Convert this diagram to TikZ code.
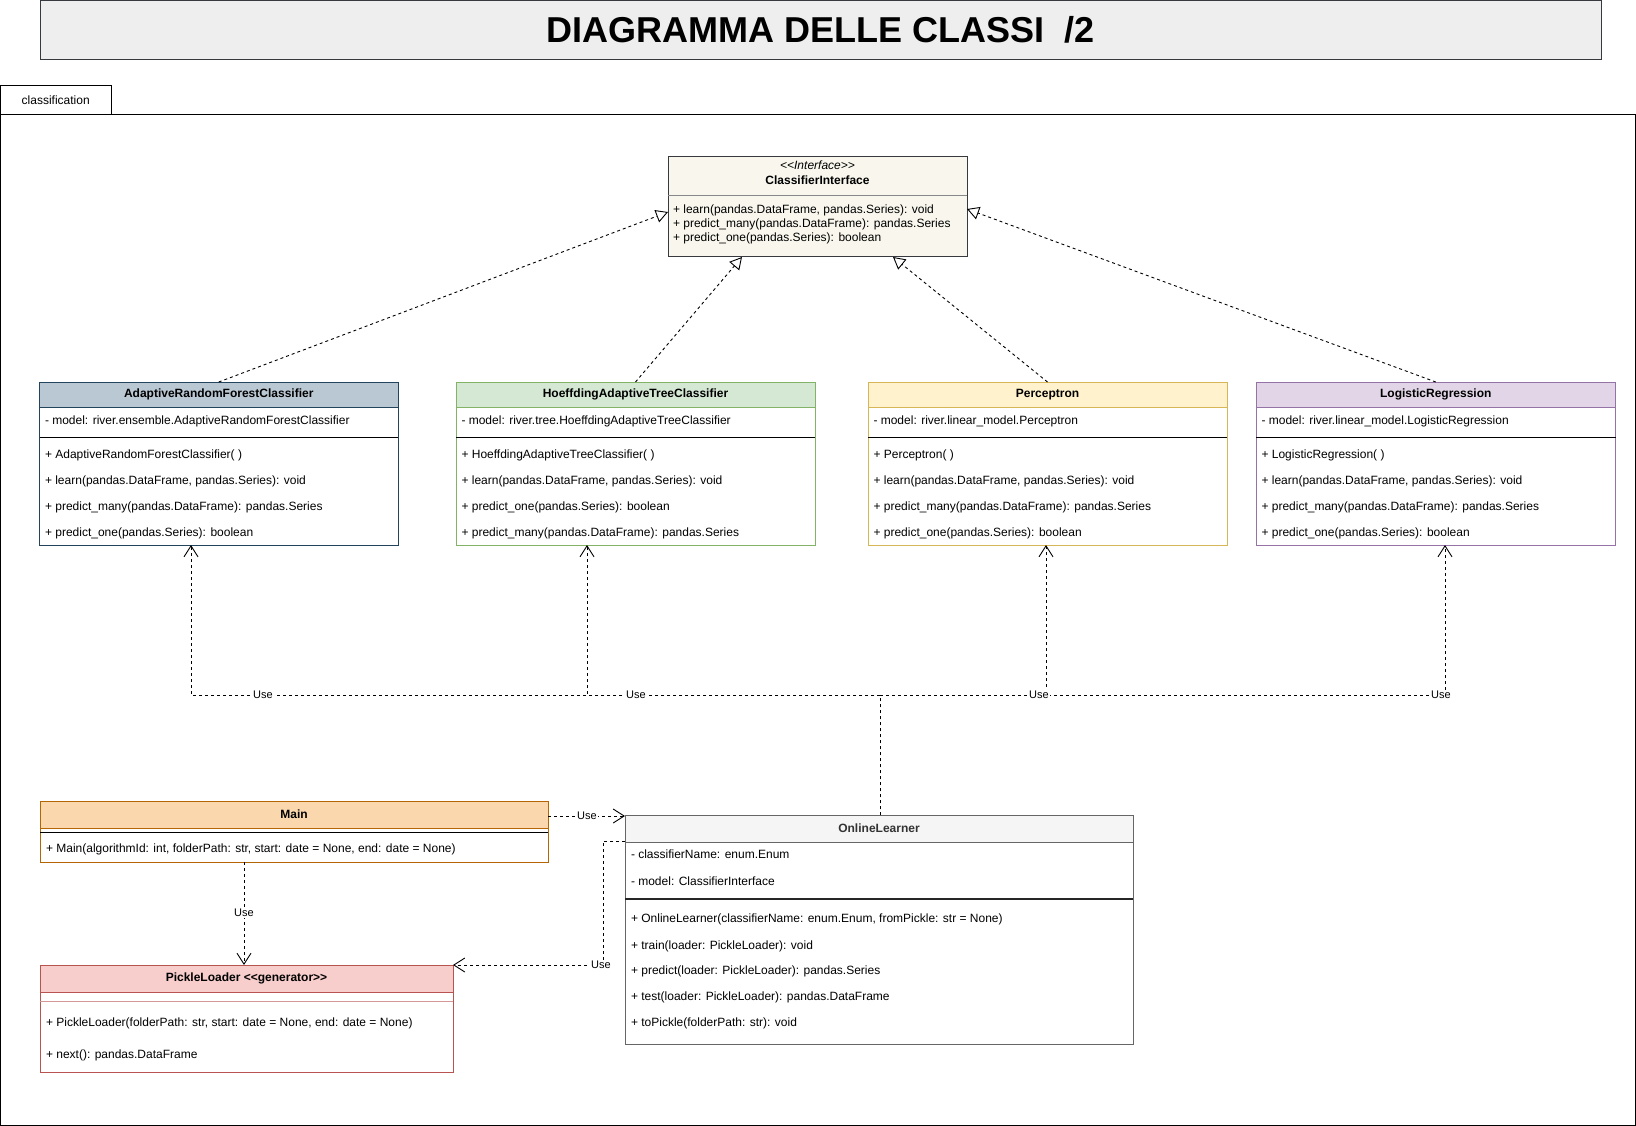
\documentclass[tikz,border=0pt]{standalone}
\usepackage{fontspec}
\setmainfont{Liberation Sans}
\usetikzlibrary{arrows.meta,calc}
\definecolor{titleF}{HTML}{EEEEEE}
\definecolor{titleS}{HTML}{36393D}
\definecolor{ciF}{HTML}{F9F7ED}
\definecolor{ciS}{HTML}{36393D}
\definecolor{arfF}{HTML}{BAC8D3}
\definecolor{arfS}{HTML}{23445D}
\definecolor{hatF}{HTML}{D5E8D4}
\definecolor{hatS}{HTML}{82B366}
\definecolor{perF}{HTML}{FFF2CC}
\definecolor{perS}{HTML}{D6B656}
\definecolor{lrF}{HTML}{E1D5E7}
\definecolor{lrS}{HTML}{9673A6}
\definecolor{mainF}{HTML}{FAD7AC}
\definecolor{mainS}{HTML}{B46504}
\definecolor{plF}{HTML}{F8CECC}
\definecolor{plS}{HTML}{B85450}
\definecolor{olF}{HTML}{F5F5F5}
\definecolor{olS}{HTML}{666666}
\definecolor{olT}{HTML}{333333}
\tikzset{
  txt/.style={anchor=west, inner sep=0pt, outer sep=0pt, font=\fontsize{12}{14}\selectfont, text height=8.6pt, text depth=2.6pt},
  hdr/.style={anchor=north west, inner sep=0pt, outer sep=0pt, minimum height=25pt, line width=1pt, font=\fontsize{12}{14}\selectfont\bfseries},
  cls/.style={anchor=north west, inner sep=0pt, outer sep=0pt, fill=white, line width=1pt},
  sepline/.style={draw=black, line width=1pt},
  real/.style={draw=black, line width=0.9pt, dash pattern=on 3pt off 3pt, -{Triangle[open, length=12pt, width=13pt, fill=white]}},
  usearr/.style={draw=black, line width=0.9pt, dash pattern=on 3pt off 3pt, -{Straight Barb[length=11pt, width=14pt]}},
  lbl/.style={fill=white, inner sep=1pt, font=\fontsize{11}{13}\selectfont},
}
\begin{document}
\begin{tikzpicture}[x=1pt,y=-1pt]
\useasboundingbox (0,0) rectangle (1636,1126);

% title
\node[draw=titleS, fill=titleF, line width=1pt, minimum width=1561pt, minimum height=59pt, anchor=north west, inner sep=0pt, outer sep=0pt, font=\fontsize{36}{40}\selectfont\bfseries] (title) at (40,0.5) {DIAGRAMMA DELLE CLASSI~~/2};

% package
\node[draw=black, line width=1pt, minimum width=1634.5pt, minimum height=1010.5pt, anchor=north west, inner sep=0pt, outer sep=0pt] (pkg) at (0.5,115) {};
\node[draw=black, line width=1pt, minimum width=110.5pt, minimum height=29pt, anchor=south west, inner sep=0pt, outer sep=0pt, font=\fontsize{12}{14}\selectfont] (tab) at (0.5,115) {classification};

% interface
\node[cls, draw=ciS, fill=ciF, minimum width=299pt, minimum height=100pt] (ci) at (668,157) {};
\node[txt, anchor=center, font=\fontsize{12}{14}\selectfont\itshape] (ci1) at (817.5,167) {<\kern0pt<Interface>\kern0pt>};
\node[txt, anchor=center, font=\fontsize{12}{14}\selectfont\bfseries] (ci2) at (817.5,182) {ClassifierInterface};
\draw[draw=ciS!60, line width=1pt] (668,196) -- (967,196);
\node[txt] (ci3) at (673,211) {+ learn(pandas.DataFrame, pandas.Series): void};
\node[txt] (ci4) at (673,225) {+ predict\_many(pandas.DataFrame): pandas.Series};
\node[txt] (ci5) at (673,238.5) {+ predict\_one(pandas.Series): boolean};

% AdaptiveRandomForestClassifier
\node[cls, draw=arfS, minimum width=358.5pt, minimum height=163pt] (arf) at (39.5,382) {};
\node[hdr, fill=arfF, draw=arfS, minimum width=358.5pt] (arfh) at (arf.north west) {AdaptiveRandomForestClassifier};
\draw[sepline] (39.5,437) -- (398,437);
\node[txt] (arf1) at (45,421) {- model: river.ensemble.AdaptiveRandomForestClassifier};
\node[txt] (arf2) at (45,455) {+ AdaptiveRandomForestClassifier( )};
\node[txt] (arf3) at (45,481) {+ learn(pandas.DataFrame, pandas.Series): void};
\node[txt] (arf4) at (45,507) {+ predict\_many(pandas.DataFrame): pandas.Series};
\node[txt] (arf5) at (45,533) {+ predict\_one(pandas.Series): boolean};

% HoeffdingAdaptiveTreeClassifier
\node[cls, draw=hatS, minimum width=359pt, minimum height=163pt] (hat) at (456,382) {};
\node[hdr, fill=hatF, draw=hatS, minimum width=359pt] (hath) at (hat.north west) {HoeffdingAdaptiveTreeClassifier};
\draw[sepline] (456,437) -- (815,437);
\node[txt] (hat1) at (461.5,421) {- model: river.tree.HoeffdingAdaptiveTreeClassifier};
\node[txt] (hat2) at (461.5,455) {+ HoeffdingAdaptiveTreeClassifier( )};
\node[txt] (hat3) at (461.5,481) {+ learn(pandas.DataFrame, pandas.Series): void};
\node[txt] (hat4) at (461.5,507) {+ predict\_one(pandas.Series): boolean};
\node[txt] (hat5) at (461.5,533) {+ predict\_many(pandas.DataFrame): pandas.Series};

% Perceptron
\node[cls, draw=perS, minimum width=359pt, minimum height=163pt] (per) at (868,382) {};
\node[hdr, fill=perF, draw=perS, minimum width=359pt] (perh) at (per.north west) {Perceptron};
\draw[sepline] (868,437) -- (1227,437);
\node[txt] (per1) at (873.5,421) {- model: river.linear\_model.Perceptron};
\node[txt] (per2) at (873.5,455) {+ Perceptron( )};
\node[txt] (per3) at (873.5,481) {+ learn(pandas.DataFrame, pandas.Series): void};
\node[txt] (per4) at (873.5,507) {+ predict\_many(pandas.DataFrame): pandas.Series};
\node[txt] (per5) at (873.5,533) {+ predict\_one(pandas.Series): boolean};

% LogisticRegression
\node[cls, draw=lrS, minimum width=359.5pt, minimum height=163pt] (lr) at (1256,382) {};
\node[hdr, fill=lrF, draw=lrS, minimum width=359.5pt] (lrh) at (lr.north west) {LogisticRegression};
\draw[sepline] (1256,437) -- (1615.5,437);
\node[txt] (lr1) at (1261.5,421) {- model: river.linear\_model.LogisticRegression};
\node[txt] (lr2) at (1261.5,455) {+ LogisticRegression( )};
\node[txt] (lr3) at (1261.5,481) {+ learn(pandas.DataFrame, pandas.Series): void};
\node[txt] (lr4) at (1261.5,507) {+ predict\_many(pandas.DataFrame): pandas.Series};
\node[txt] (lr5) at (1261.5,533) {+ predict\_one(pandas.Series): boolean};

% Main
\node[cls, draw=mainS, minimum width=508pt, minimum height=61pt] (main) at (40,801) {};
\node[hdr, fill=mainF, draw=mainS, minimum width=508pt, minimum height=27pt] (mainh) at (main.north west) {Main};
\draw[sepline] (40,832) -- (548,832);
\node[txt] (main1) at (46,849) {+ Main(algorithmId: int, folderPath: str, start: date = None, end: date = None)};

% PickleLoader
\node[cls, draw=plS, minimum width=413pt, minimum height=107pt] (pl) at (40,965) {};
\node[hdr, fill=plF, draw=plS, minimum width=413pt, minimum height=27pt] (plh) at (pl.north west) {PickleLoader <\kern0pt<generator>\kern0pt>};
\draw[draw=plS!60, line width=1pt] (40,1001) -- (453,1001);
\node[txt] (pl1) at (46,1023) {+ PickleLoader(folderPath: str, start: date = None, end: date = None)};
\node[txt] (pl2) at (46,1055) {+ next(): pandas.DataFrame};

% OnlineLearner
\node[cls, draw=olS, minimum width=508pt, minimum height=229pt] (ol) at (625,815) {};
\node[hdr, fill=olF, draw=olS, text=olT, minimum width=508pt, minimum height=27pt] (olh) at (ol.north west) {OnlineLearner};
\draw[draw=black!85, line width=1.3pt] (625,899) -- (1133,899);
\node[txt] (ol1) at (631,855) {- classifierName: enum.Enum};
\node[txt] (ol2) at (631,882) {- model: ClassifierInterface};
\node[txt] (ol3) at (631,919) {+ OnlineLearner(classifierName: enum.Enum, fromPickle: str = None)};
\node[txt] (ol4) at (631,946) {+ train(loader: PickleLoader): void};
\node[txt] (ol5) at (631,971) {+ predict(loader: PickleLoader): pandas.Series};
\node[txt] (ol6) at (631,997) {+ test(loader: PickleLoader): pandas.DataFrame};
\node[txt] (ol7) at (631,1023) {+ toPickle(folderPath: str): void};

% realization arrows
\draw[real] (arfh.north) -- ($(ci.west)+(0,5)$);
\draw[real] (hath.north) -- ($(ci.south west)+(74,0)$);
\draw[real] (perh.north) -- ($(ci.south west)+(225,0)$);
\draw[real] (lrh.north) -- ($(ci.east)+(0,2)$);

% use arrows from OnlineLearner
\coordinate (olt) at ($(ol.north west)+(255,0)$);
\draw[usearr] (olt) |- ($(arf.south west)+(151.5,150)$) -- ($(arf.south west)+(151.5,0)$);
\draw[usearr] (olt) |- ($(hat.south west)+(131,150)$) -- ($(hat.south west)+(131,0)$);
\draw[usearr] (olt) |- ($(per.south west)+(178,150)$) -- ($(per.south west)+(178,0)$);
\draw[usearr] (olt) |- ($(lr.south west)+(189,150)$) -- ($(lr.south west)+(189,0)$);

% other use arrows
\draw[usearr] ($(main.north east)+(0,15)$) -- ($(ol.north west)+(0,1)$);
\draw[usearr] ($(main.south west)+(204,0)$) -- ($(pl.north west)+(204,0)$);
\draw[usearr] ($(ol.north west)+(0,26)$) -| ($(pl.north east)+(150,0)$) -- (pl.north east);

% labels
\node[lbl] (u1) at (263,695) {Use};
\node[lbl] (u2) at (636,695) {Use};
\node[lbl] (u3) at (1039,695) {Use};
\node[lbl] (u4) at (1441,695) {Use};
\node[lbl] (u5) at (587,816) {Use};
\node[lbl] (u6) at (244,913) {Use};
\node[lbl] (u7) at (601,965) {Use};
\end{tikzpicture}
\end{document}
